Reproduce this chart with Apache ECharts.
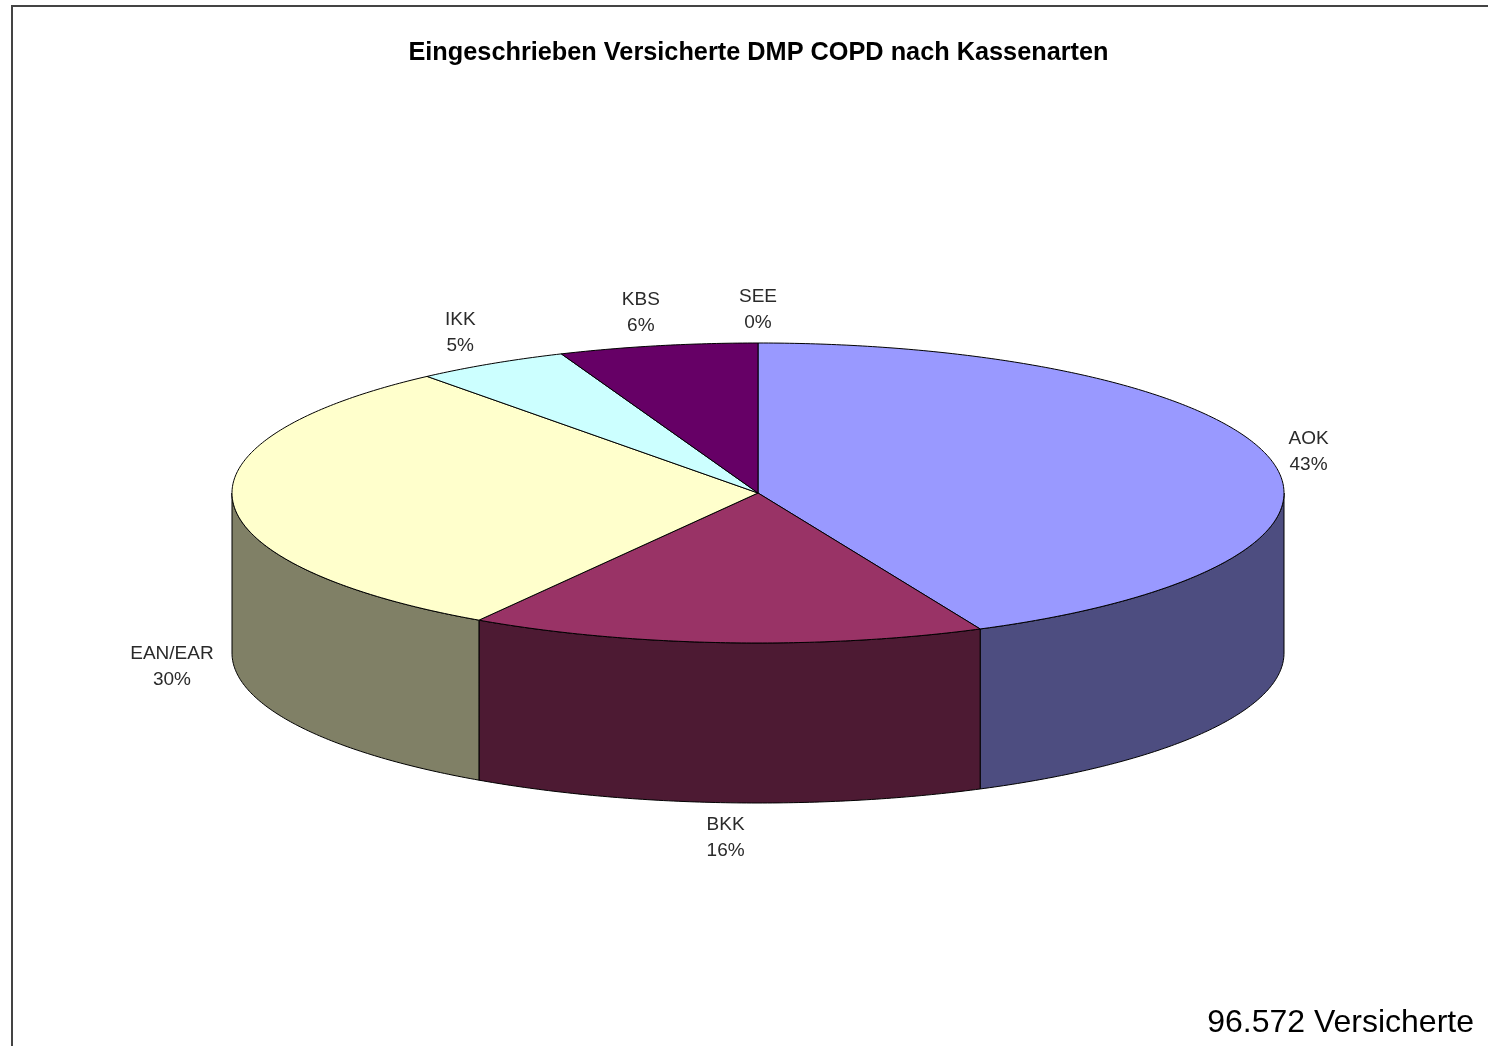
<!DOCTYPE html>
<html>
<head>
<meta charset="utf-8">
<style>html,body{margin:0;padding:0;background:#fff;overflow:hidden}#c{width:1488px;height:1046px}</style>
<script src="https://cdn.jsdelivr.net/npm/echarts@6/dist/echarts.min.js"></script>
</head>
<body>
<div id="c"></div>
<script>
// Data, clockwise from twelve o'clock (shares estimated from the slice edges; labels show them rounded)
const categories = ['AOK', 'BKK', 'EAN/EAR', 'IKK', 'KBS', 'SEE'];
const shares = [43.06, 15.84, 30.27, 4.73, 6.1, 0];
const topColors = ['#9999FF', '#993366', '#FFFFCC', '#CCFFFF', '#660066', '#FF8080'];
const sideColors = ['#4D4D80', '#4D1A33', '#808066', '#668080', '#330033', '#804040'];
const titleText = 'Eingeschrieben Versicherte DMP COPD nach Kassenarten';
const noteText = '96.572 Versicherte';

// Layout of the flattened pie
const CX = 758, CY = 493, RX = 526, RY = 150, DEPTH = 160;
const labelOffsets = [[37, -9], [0, 35], [-61, 5], [-31, -31], [-17, -33], [0, -33]];

const total = shares.reduce((a, b) => a + b, 0);
const starts = [];
shares.reduce((acc, v, i) => { starts[i] = acc; return acc + v; }, 0);
const angleOf = pct => pct / total * 2 * Math.PI;
const px = (t, dz) => [CX + RX * Math.sin(t), CY - RY * Math.cos(t) + (dz || 0)];

function arc(t0, t1, dz) {
  const n = Math.max(2, Math.ceil(Math.abs(t1 - t0) / 0.01));
  const out = [];
  for (let i = 0; i <= n; i++) out.push(px(t0 + (t1 - t0) * i / n, dz));
  return out;
}

function renderSide(params, api) {
  const i = params.dataIndex;
  const t0 = Math.max(angleOf(starts[i]), Math.PI / 2);
  const t1 = Math.min(angleOf(starts[i] + api.value(0)), 3 * Math.PI / 2);
  if (t1 <= t0) return null;
  const pts = arc(t0, t1, 0).concat(arc(t1, t0, DEPTH));
  return {
    type: 'polygon', shape: { points: pts },
    style: { fill: sideColors[i], stroke: '#000', lineWidth: 1 }, silent: true
  };
}

function renderTop(params, api) {
  const i = params.dataIndex;
  const t0 = angleOf(starts[i]);
  const t1 = angleOf(starts[i] + api.value(0));
  if (t1 <= t0) return null;
  const pts = [[CX, CY]].concat(arc(t0, t1, 0));
  return {
    type: 'polygon', shape: { points: pts },
    style: { fill: topColors[i], stroke: '#000', lineWidth: 1 }, silent: true
  };
}

function renderLabel(params, api) {
  const i = params.dataIndex;
  const v = api.value(0);
  const mid = angleOf(starts[i] + v / 2);
  const a = px(mid, Math.cos(mid) < 0 ? DEPTH : 0);
  return {
    type: 'text', silent: true,
    x: a[0] + labelOffsets[i][0], y: a[1] + labelOffsets[i][1],
    style: {
      text: categories[i] + '\n' + Math.round(v) + '%',
      fill: '#2a2a2a', font: '19px "Liberation Sans", Arial, sans-serif',
      lineHeight: 26, align: 'center', verticalAlign: 'middle'
    }
  };
}

const chart = echarts.init(document.getElementById('c'), null, { width: 1488, height: 1046 });
chart.setOption({
  animation: false,
  backgroundColor: '#fff',
  graphic: [
    { type: 'rect', silent: true, shape: { x: 12, y: 6, width: 1600, height: 1200 },
      style: { fill: 'none', stroke: '#444', lineWidth: 2 }, z: 0 },
    { type: 'text', silent: true, x: 758.5, y: 53,
      style: { text: titleText, fill: '#000', font: 'bold 25.3px "Liberation Sans", Arial, sans-serif', align: 'center', verticalAlign: 'middle' }, z: 5 },
    { type: 'text', silent: true, x: 1474, y: 1023,
      style: { text: noteText, fill: '#000', font: '32px "Liberation Sans", Arial, sans-serif', align: 'right', verticalAlign: 'middle' }, z: 5 }
  ],
  series: [
    { type: 'custom', coordinateSystem: 'none', name: 'side', renderItem: renderSide, data: shares, z: 2, silent: true },
    { type: 'custom', coordinateSystem: 'none', name: 'top', renderItem: renderTop, data: shares, z: 3, silent: true },
    { type: 'custom', coordinateSystem: 'none', name: 'labels', renderItem: renderLabel, data: shares, z: 4, silent: true }
  ]
});
</script>
</body>
</html>
